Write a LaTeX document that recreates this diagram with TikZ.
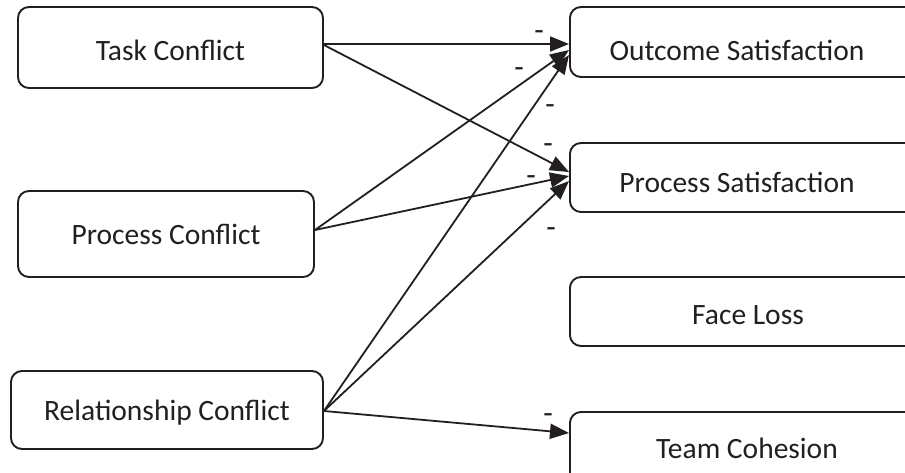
\documentclass[tikz,border=0pt]{standalone}
\usepackage{fontspec}
\setmainfont{Carlito}
\usetikzlibrary{arrows.meta}
\definecolor{ink}{HTML}{231F20}
\newcommand{\lowtext}[1]{\raisebox{-3pt}[\height][\depth]{#1}}
\begin{document}
\begin{tikzpicture}[x=1pt,y=-1pt,
  lbox/.style={draw=ink, line width=1.9pt, rounded corners=11pt, inner sep=0pt, text=ink,
               font=\fontsize{29.5}{34}\selectfont},
  rbox/.style={draw=ink, line width=1.9pt, rounded corners=11pt, inner sep=0pt,
               minimum width=360pt, anchor=west},
  lbl/.style={text=ink, inner sep=0pt, font=\fontsize{29.5}{34}\selectfont},
  minus/.style={text=ink, inner sep=0pt, anchor=base, font=\fontsize{31}{33}\selectfont},
  conn/.style={draw=ink, line width=1.8pt, -{Triangle[length=19pt,width=15pt]}}]
\clip (0,0) rectangle (905,472);
\useasboundingbox (0,0) rectangle (905,472);
\fill[white] (0,0) rectangle (905,472);
% left boxes
\node[lbox, minimum width=305pt, minimum height=81pt] (task) at (170.5,47.5) {\lowtext{Task Conflict}};
\node[lbox, minimum width=296pt, minimum height=86pt] (proc) at (166,234) {Process Conflict};
\node[lbox, minimum width=312pt, minimum height=78pt] (rel) at (167,410) {\lowtext{Relationship Conflict}};
% right boxes (cut off at right edge)
\node[rbox, minimum height=70pt] (os) at (569,42) {};
\node[rbox, minimum height=69pt] (ps) at (569,177.5) {};
\node[rbox, minimum height=69pt] (fl) at (569,311.5) {};
\node[rbox, minimum height=74pt] (tc) at (569,449) {};
\node[lbl] (ost) at (737,50) {Outcome Satisfaction};
\node[lbl] (pst) at (737,182) {Process Satisfaction};
\node[lbl] (flt) at (748,315) {Face Loss};
\node[lbl] (tct) at (747,448) {Team Cohesion};
% connectors
\draw[conn] ([yshift=3.5pt]task.east) -- ([yshift=-2pt]os.west);
\draw[conn] ([yshift=2.5pt]task.east) -- ([yshift=5.5pt]ps.west);
\draw[conn] ([yshift=4pt]proc.east) -- ([yshift=-8pt]os.west);
\draw[conn] ([yshift=4pt]proc.east) -- ([yshift=1.5pt]ps.west);
\draw[conn] ([yshift=-1pt]rel.east) -- ([yshift=-13pt]os.west);
\draw[conn] ([yshift=-1pt]rel.east) -- ([yshift=-3.5pt]ps.west);
\draw[conn] ([yshift=-1pt]rel.east) -- ([yshift=16pt]tc.west);
% minus labels
\node[minus] (m1) at (539,40) {-};
\node[minus] (m2) at (519,77) {-};
\node[minus] (m3) at (550,114) {-};
\node[minus] (m4) at (548,153) {-};
\node[minus] (m5) at (531,185) {-};
\node[minus] (m6) at (551,237) {-};
\node[minus] (m7) at (548,423) {-};
\end{tikzpicture}
\end{document}
